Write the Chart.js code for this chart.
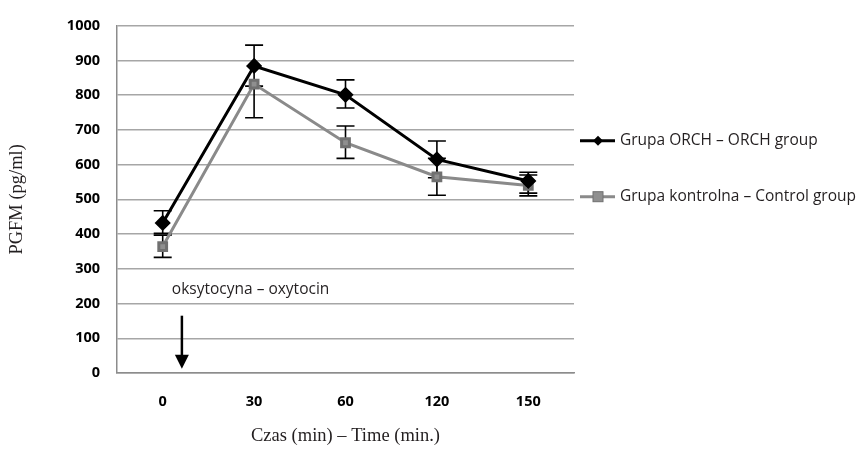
<!DOCTYPE html>
<html>
<head>
<meta charset="utf-8">
<script src="https://cdn.jsdelivr.net/npm/chart.js@4.4.0/dist/chart.umd.min.js"></script>
<style>
  html, body { margin: 0; padding: 0; background: #fff; }
</style>
</head>
<body>
<canvas id="chart" width="856" height="449"></canvas>
<script>
// time points (min)
const timeLabels = ['0', '30', '60', '120', '150'];

// PGFM (pg/ml)
const orchValues = [432, 884, 801, 615, 553];
const orchErrUp = [35, 60, 43, 53, 25];
const orchErrDown = [30, 58, 38, 53, 35];

const controlValues = [364, 832, 663, 565, 540];
const controlErrUp = [33, 0, 48, 53, 30];
const controlErrDown = [31, 97, 45, 53, 30];

const seriesNames = ['Grupa ORCH \u2013 ORCH group', 'Grupa kontrolna \u2013 Control group'];

// oxytocin note: x in category units, y in pg/ml
const noteText = 'oksytocyna \u2013 oxytocin';
const noteAt = { x: 0.1, y: 240 };
const arrowAt = { x: 0.21, from: 165, to: 12 };

const sansFont = "'Open Sans', 'Noto Sans', sans-serif";
const serifFont = "'Liberation Serif', 'DejaVu Serif', serif";

// error bars drawn under the markers
const errorBars = {
  id: 'errorBars',
  beforeDatasetsDraw(chart) {
    const ctx = chart.ctx;
    const yScale = chart.scales.y;
    chart.data.datasets.forEach((ds, i) => {
      const meta = chart.getDatasetMeta(i);
      ctx.save();
      ctx.strokeStyle = '#000';
      ctx.lineWidth = 1.6;
      meta.data.forEach((pt, j) => {
        const v = ds.data[j];
        const x = pt.x;
        const top = yScale.getPixelForValue(v + ds.errUp[j]);
        const bot = yScale.getPixelForValue(v - ds.errDown[j]);
        ctx.beginPath();
        ctx.moveTo(x, top);
        ctx.lineTo(x, bot);
        if (ds.errUp[j] > 0) { ctx.moveTo(x - 9, top); ctx.lineTo(x + 9, top); }
        if (ds.errDown[j] > 0) { ctx.moveTo(x - 9, bot); ctx.lineTo(x + 9, bot); }
        ctx.stroke();
      });
      ctx.restore();
    });
  }
};

// note + arrow, and the legend at the right
const extras = {
  id: 'extras',
  afterDraw(chart) {
    const ctx = chart.ctx;
    const xs = chart.scales.x, ys = chart.scales.y;
    const area = chart.chartArea;

    ctx.save();
    ctx.fillStyle = '#231f20';
    ctx.font = '15.5px ' + sansFont;
    ctx.textBaseline = 'middle';
    ctx.fillText(noteText, xs.getPixelForValue(noteAt.x), ys.getPixelForValue(noteAt.y));

    const ax = xs.getPixelForValue(arrowAt.x);
    const y0 = ys.getPixelForValue(arrowAt.from);
    const y1 = ys.getPixelForValue(arrowAt.to);
    ctx.strokeStyle = '#000';
    ctx.lineWidth = 2.5;
    ctx.beginPath();
    ctx.moveTo(ax, y0);
    ctx.lineTo(ax, y1 - 12);
    ctx.stroke();
    ctx.fillStyle = '#000';
    ctx.beginPath();
    ctx.moveTo(ax - 7, y1 - 14);
    ctx.lineTo(ax + 7, y1 - 14);
    ctx.lineTo(ax, y1);
    ctx.closePath();
    ctx.fill();

    // legend
    chart.data.datasets.forEach((ds, i) => {
      const ly = area.top + 115 + i * 56;
      const lx = area.right + 6;
      ctx.strokeStyle = ds.borderColor;
      ctx.lineWidth = ds.borderWidth;
      ctx.beginPath();
      ctx.moveTo(lx, ly);
      ctx.lineTo(lx + 35, ly);
      ctx.stroke();
      ctx.fillStyle = ds.pointBackgroundColor;
      ctx.strokeStyle = ds.pointBorderColor;
      ctx.lineWidth = 1;
      const cx = lx + 18;
      if (ds.pointStyle === 'rectRot') {
        const r = 5;
        ctx.beginPath();
        ctx.moveTo(cx, ly - r); ctx.lineTo(cx + r, ly); ctx.lineTo(cx, ly + r); ctx.lineTo(cx - r, ly);
        ctx.closePath();
        ctx.fill();
      } else {
        ctx.fillRect(cx - 5, ly - 5, 10, 10);
        ctx.strokeRect(cx - 5, ly - 5, 10, 10);
      }
      ctx.fillStyle = '#231f20';
      ctx.font = '15.5px ' + sansFont;
      ctx.textBaseline = 'middle';
      ctx.fillText(ds.label, lx + 40, ly);
    });
    ctx.restore();
  }
};

new Chart(document.getElementById('chart'), {
  type: 'line',
  data: {
    labels: timeLabels,
    datasets: [
      {
        label: seriesNames[0],
        data: orchValues,
        errUp: orchErrUp,
        errDown: orchErrDown,
        borderColor: '#000',
        borderWidth: 3,
        pointStyle: 'rectRot',
        pointRadius: 6,
        pointBackgroundColor: '#000',
        pointBorderColor: '#000',
        tension: 0
      },
      {
        label: seriesNames[1],
        data: controlValues,
        errUp: controlErrUp,
        errDown: controlErrDown,
        borderColor: '#8a8a8a',
        borderWidth: 3,
        pointStyle: 'rect',
        pointRadius: 5.5,
        pointBackgroundColor: '#8f8f8f',
        pointBorderColor: '#707070',
        tension: 0
      }
    ]
  },
  options: {
    responsive: false,
    animation: false,
    layout: { padding: { left: 0, top: 22, right: 282, bottom: 0 } },
    plugins: {
      legend: { display: false },
      tooltip: { enabled: false }
    },
    scales: {
      x: {
        offset: true,
        grid: { display: false, drawTicks: false },
        border: { display: true, color: '#8c8c8c', width: 1.5 },
        ticks: {
          padding: 20,
          color: '#000',
          font: { family: sansFont, size: 14.5, weight: 'bold' }
        },
        title: {
          display: true,
          text: 'Czas (min) \u2013 Time (min.)',
          color: '#231f20',
          font: { family: serifFont, size: 18.5 },
          padding: { top: 0, bottom: 2 }
        },
        afterFit(scale) { scale.height = 76; }
      },
      y: {
        min: 0,
        max: 1000,
        grid: { color: '#a6a6a6', lineWidth: 1.5, drawTicks: false },
        border: { display: true, color: '#8c8c8c', width: 1.5 },
        ticks: {
          stepSize: 100,
          padding: 17,
          color: '#000',
          font: { family: sansFont, size: 14.5, weight: 'bold' },
          callback: (v) => String(v)
        },
        title: {
          display: true,
          text: 'PGFM (pg/ml)',
          color: '#231f20',
          font: { family: serifFont, size: 18.5 },
          padding: { top: 6, bottom: 0 }
        },
        afterFit(scale) { scale.width = 117; }
      }
    }
  },
  plugins: [errorBars, extras]
});
</script>
</body>
</html>
